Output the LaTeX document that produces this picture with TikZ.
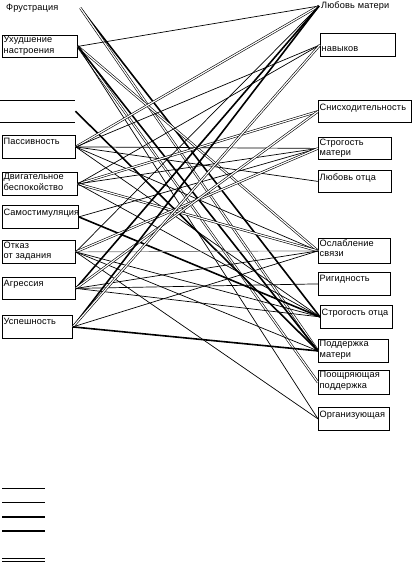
\documentclass[tikz,border=0pt]{standalone}
\usepackage{fontspec}
\setmainfont{Liberation Sans}[LetterSpace=1.5]
\begin{document}
\begin{tikzpicture}[x=1pt,y=-1pt,
  box/.style={draw, line width=0.8pt, anchor=north west, inner sep=0pt},
  lbl/.style={anchor=north west, align=left, inner sep=1.4pt, font=\fontsize{9.2}{10.2}\selectfont},
  freetxt/.style={anchor=west, align=left, inner sep=2pt, font=\fontsize{9.2}{10.2}\selectfont},
  tl/.style={line width=0.7pt},
  tk/.style={line width=1.6pt},
  dl/.style={double, line width=0.6pt, double distance=1.2pt},
]
\useasboundingbox (0,0) rectangle (412,564);

% left column
\node[freetxt, text width=72pt] (fr) at (4,8) {Фрустрация};
\node[box, minimum width=75pt, minimum height=22pt] (ux) at (2,35) {};
\node[lbl] at (ux.north west) {Ухудшение\\настроения};
\node[anchor=north west, inner sep=0pt, minimum width=75pt, minimum height=22pt] (bl) at (0,100) {};
\draw[line width=0.8pt] (bl.north west) -- (bl.north east) (bl.south west) -- (bl.south east);
\node[box, minimum width=73pt, minimum height=23pt] (pas) at (2,135) {};
\node[lbl] at ([yshift=-2pt]pas.north west) {Пассивность};
\node[box, minimum width=75pt, minimum height=23pt] (dv) at (2,172) {};
\node[lbl] at (dv.north west) {Двигательное\\беспокойство};
\node[box, minimum width=76pt, minimum height=23pt] (sam) at (2,205) {};
\node[lbl] at ([yshift=-2pt]sam.north west) {Самостимуляция};
\node[box, minimum width=73pt, minimum height=23pt] (otk) at (2,240) {};
\node[lbl] at (otk.north west) {Отказ\\от задания};
\node[box, minimum width=73pt, minimum height=22pt] (agr) at (2,277) {};
\node[lbl] at ([yshift=-2pt]agr.north west) {Агрессия};
\node[box, minimum width=70pt, minimum height=23pt] (usp) at (2,315) {};
\node[lbl] at ([yshift=-2pt]usp.north west) {Успешность};

% right column
\node[freetxt, text width=70pt] (lm) at (319,6) {Любовь матери};
\node[box, minimum width=75pt, minimum height=23pt] (nav) at (320,33) {};
\node[lbl] at (nav.north west) {\strut\\навыков};
\node[box, minimum width=93pt, minimum height=22pt] (sni) at (318,100) {};
\node[lbl] at ([yshift=-2pt]sni.north west) {Снисходительность};
\node[box, minimum width=73pt, minimum height=22pt] (stm) at (318,137) {};
\node[lbl] at (stm.north west) {Строгость\\матери};
\node[box, minimum width=73pt, minimum height=22pt] (lo) at (318,170) {};
\node[lbl] at ([yshift=-2pt]lo.north west) {Любовь отца};
\node[box, minimum width=72pt, minimum height=25pt] (osl) at (318,238) {};
\node[lbl] at (osl.north west) {Ослабление\\связи};
\node[box, minimum width=72pt, minimum height=23pt] (rig) at (318,272) {};
\node[lbl] at ([yshift=-2pt]rig.north west) {Ригидность};
\node[box, minimum width=72pt, minimum height=23pt] (sto) at (320,305) {};
\node[lbl] at ([yshift=-2pt]sto.north west) {Строгость отца};
\node[box, minimum width=70pt, minimum height=23pt] (pm) at (318,339) {};
\node[lbl] at (pm.north west) {Поддержка\\матери};
\node[box, minimum width=71pt, minimum height=24pt] (poo) at (318,370) {};
\node[lbl] at (poo.north west) {Поощряющая\\поддержка};
\node[box, minimum width=71pt, minimum height=23pt] (org) at (318,407) {};
\node[lbl] at ([yshift=-2pt]org.north west) {Организующая};

% connectors
\draw[tk] (fr.east) -- (sto.west);
\draw[dl] (fr.east) -- (pm.west);
\draw[tl] (ux.east) -- (lm.west);
\draw[dl] (ux.east) -- (osl.west);
\draw[dl] (ux.east) -- (poo.west);
\draw[tk] (ux.east) -- (pm.west);
\draw[tl] (ux.east) -- (org.west);
\draw[tk] (bl.east) -- (pm.west);
\draw[dl] (pas.east) -- (lm.west);
\draw[tl] (pas.east) -- (nav.west);
\draw[tl] (pas.east) -- (stm.west);
\draw[tl] (pas.east) -- (lo.west);
\draw[tl] (pas.east) -- (osl.west);
\draw[tl] (pas.east) -- (sto.west);
\draw[dl] (dv.east) -- (sni.west);
\draw[tl] (dv.east) -- (stm.west);
\draw[dl] (dv.east) -- (osl.west);
\draw[tl] (dv.east) -- (nav.west);
\draw[tl] (dv.east) -- (sto.west);
\draw[tk] (sam.east) -- (sto.west);
\draw[tl] (sam.east) -- (stm.west);
\draw[tl] (otk.east) -- (lm.west);
\draw[dl] (otk.east) -- (stm.west);
\draw[tl, gray] (otk.east) -- (osl.west);
\draw[tl] (otk.east) -- (sto.west);
\draw[tl] (otk.east) -- (pm.west);
\draw[tl] (otk.east) -- (org.west);
\draw[tk] (agr.east) -- (lm.west);
\draw[dl] (agr.east) -- (sni.west);
\draw[tl] (agr.east) -- (rig.west);
\draw[tl] (agr.east) -- (osl.west);
\draw[tl] (agr.east) -- (sto.west);
\draw[tk] (usp.east) -- (lm.west);
\draw[dl] (usp.east) -- (nav.west);
\draw[tk] (usp.east) -- (pm.west);
\draw[tl] (usp.east) -- (osl.west);

% legend
\draw[tl] (2,488) -- (45,488);
\draw[tl] (2,502) -- (45,502);
\draw[tk] (2,517) -- (45,517);
\draw[tk] (2,531) -- (45,531);
\draw[tl] (2,558) -- (45,558);
\draw[tl] (2,561.5) -- (45,561.5);
\end{tikzpicture}
\end{document}
